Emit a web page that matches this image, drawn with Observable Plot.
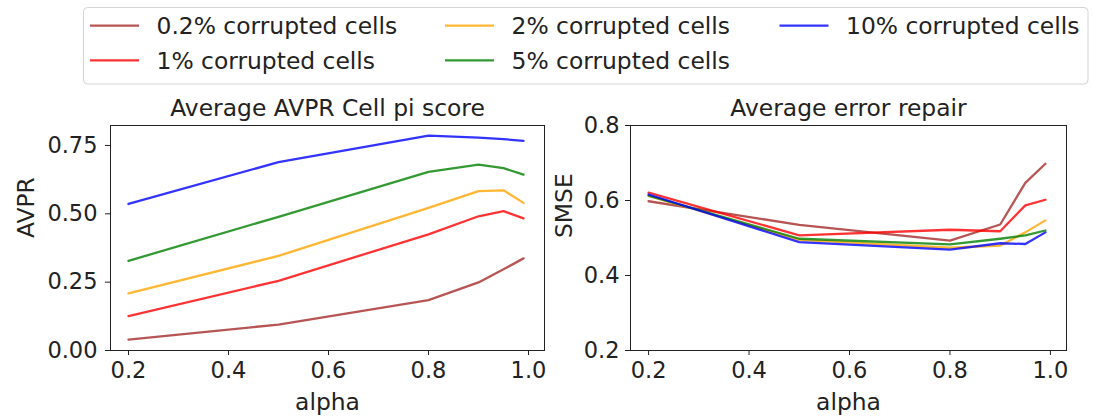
<!DOCTYPE html>
<html>
<head>
<meta charset="utf-8">
<script src="https://cdn.jsdelivr.net/npm/d3@7"></script>
<script src="https://cdn.jsdelivr.net/npm/@observablehq/plot@0.6"></script>
<style>
  body { margin: 0; background: #fff; }
  #fig { position: relative; width: 1093px; height: 419px; font-family: "DejaVu Sans", sans-serif; color: #222; overflow: hidden; }
  #fig svg { position: absolute; }
</style>
</head>
<body>
<div id="fig"></div>
<script>
// alpha values swept in the experiment
const alphas = [0.2, 0.5, 0.8, 0.9, 0.95, 0.99];
const xTicks = [0.2, 0.4, 0.6, 0.8, 1.0];

const seriesNames = ["0.2% corrupted cells", "1% corrupted cells", "2% corrupted cells", "5% corrupted cells", "10% corrupted cells"];
const seriesColors = ["#a52a2a", "#ff0000", "#ffa500", "#008000", "#0000ff"];

// Average AVPR cell pi score per corruption rate
const avpr02 = [0.040, 0.095, 0.184, 0.249, 0.297, 0.337];
const avpr1 = [0.126, 0.255, 0.425, 0.491, 0.510, 0.483];
const avpr2 = [0.209, 0.346, 0.522, 0.583, 0.586, 0.540];
const avpr5 = [0.328, 0.489, 0.653, 0.680, 0.667, 0.643];
const avpr10 = [0.536, 0.689, 0.786, 0.779, 0.773, 0.767];

// Average error repair (SMSE) per corruption rate
const smse02 = [0.598, 0.535, 0.493, 0.536, 0.647, 0.698];
const smse1 = [0.621, 0.507, 0.522, 0.518, 0.587, 0.602];
const smse2 = [0.612, 0.495, 0.474, 0.480, 0.515, 0.547];
const smse5 = [0.613, 0.498, 0.483, 0.498, 0.507, 0.520];
const smse10 = [0.616, 0.489, 0.469, 0.486, 0.484, 0.515];

const avprTicks = [0, 0.25, 0.5, 0.75];
const smseTicks = [0.2, 0.4, 0.6, 0.8];

function toRows(seriesValues) {
  return seriesValues.flatMap((vals, s) =>
    vals.map((v, i) => ({ alpha: alphas[i], value: v, series: seriesNames[s] })));
}

const avprRows = toRows([avpr02, avpr1, avpr2, avpr5, avpr10]);
const smseRows = toRows([smse02, smse1, smse2, smse5, smse10]);

const fig = document.getElementById("fig");
const FONT = "DejaVu Sans";
const LINE_WIDTH = 2.3;

function panel({ rows, title, ylabel, yDomain, yTicks, yFormat, width, marginLeft, marginRight, labelDx, tickPadY }) {
  return Plot.plot({
    width,
    height: 329,
    marginTop: 35,
    marginBottom: 69,
    marginLeft,
    marginRight,
    style: { fontFamily: FONT, fontSize: "22.5px", color: "#222", background: "transparent", overflow: "visible" },
    x: { domain: [0.164, 1.032], ticks: xTicks, tickFormat: d3.format(".1f"), label: null, tickSize: 5, tickPadding: 7 },
    y: { domain: yDomain, ticks: yTicks, tickFormat: d3.format(yFormat), label: null, tickSize: 5, tickPadding: tickPadY },
    color: { domain: seriesNames, range: seriesColors },
    marks: [
      Plot.line(rows, { x: "alpha", y: "value", z: "series", stroke: "series", strokeWidth: LINE_WIDTH, strokeOpacity: 0.8 }),
      Plot.frame({ stroke: "#222", strokeWidth: 1 }),
      Plot.text([title], { text: d => d, frameAnchor: "top", lineAnchor: "bottom", dy: -10, fontSize: 23.4, fill: "#222" }),
      Plot.text(["alpha"], { text: d => d, frameAnchor: "bottom", lineAnchor: "bottom", dy: 59, fontSize: 23.4, fill: "#222" }),
      Plot.text([ylabel], { text: d => d, frameAnchor: "left", rotate: -90, lineAnchor: "bottom", dx: labelDx, fontSize: 23.4, fill: "#222" })
    ]
  });
}

const left = panel({
  rows: avprRows, title: "Average AVPR Cell pi score", ylabel: "AVPR",
  yDomain: [0, 0.823], yTicks: avprTicks, yFormat: ".2f",
  width: 546, marginLeft: 110, marginRight: 2, labelDx: -77, tickPadY: 8
});
left.style.left = "0px";
left.style.top = "90px";
fig.appendChild(left);

const right = panel({
  rows: smseRows, title: "Average error repair", ylabel: "SMSE",
  yDomain: [0.2, 0.8], yTicks: smseTicks, yFormat: ".1f",
  width: 547, marginLeft: 84, marginRight: 27, labelDx: -59, tickPadY: 6
});
right.style.left = "546px";
right.style.top = "90px";
fig.appendChild(right);

// Legend: three columns, filled column by column
const legend = d3.create("svg")
  .attr("width", 1093)
  .attr("height", 90)
  .style("left", "0px")
  .style("top", "0px")
  .attr("font-family", FONT);

legend.append("rect")
  .attr("x", 83.5).attr("y", 7.5)
  .attr("width", 1004.5).attr("height", 76.5)
  .attr("rx", 4)
  .attr("fill", "#fff")
  .attr("stroke", "#d4d4d4");

const colX = [90, 445, 779.5];
const rowY = [25.7, 60.3];
const item = legend.selectAll("g.item")
  .data(seriesNames)
  .join("g")
  .attr("transform", (d, i) => `translate(${colX[Math.floor(i / 2)]},${rowY[i % 2]})`);

item.append("line")
  .attr("x1", 0).attr("x2", 49)
  .attr("stroke", (d, i) => seriesColors[i])
  .attr("stroke-opacity", 0.8)
  .attr("stroke-width", LINE_WIDTH);

item.append("text")
  .attr("x", 66.5)
  .attr("y", 8.5)
  .attr("font-size", 23.4)
  .attr("fill", "#222")
  .text(d => d);

fig.appendChild(legend.node());
</script>
</body>
</html>
